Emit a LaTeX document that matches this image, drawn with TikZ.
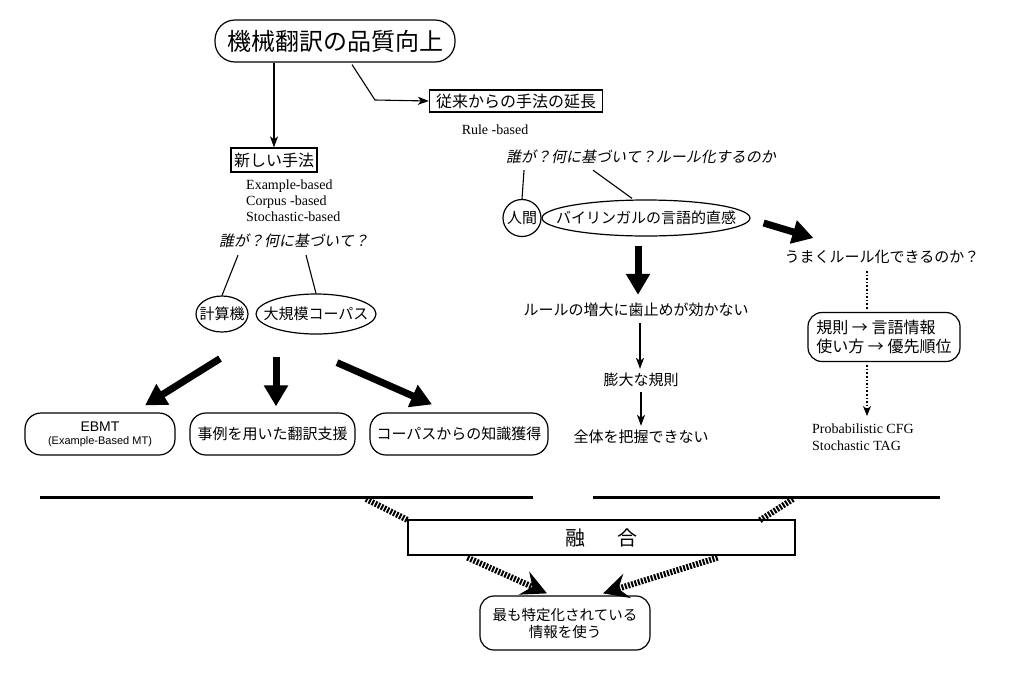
\documentclass[tikz,border=0pt]{standalone}
\usepackage{fontspec}
\setmainfont{Liberation Serif}
\newfontfamily\jp{Noto Sans CJK JP}
\newfontfamily\jpit{Noto Sans CJK JP}[FakeSlant=0.2]
\newfontfamily\ar{Liberation Sans}
\usetikzlibrary{arrows.meta,shapes.geometric,calc}
\newcommand{\zb}[1]{\makebox[0pt]{#1}}
\begin{document}
\begin{tikzpicture}[x=1pt,y=-1pt,
  txt/.style={inner sep=1, font=\jp\fontsize{15}{18}\selectfont},
  itx/.style={inner sep=1, font=\jpit\fontsize{15}{18}\selectfont},
  pill/.style={draw, line width=1.2, rounded corners=16, inner sep=2, align=center, font=\jp\fontsize{15}{18}\selectfont},
  sbox/.style={draw, line width=1.2, inner sep=3, font=\jp\fontsize{15}{18}\selectfont},
  oval/.style={draw, line width=1.2, ellipse, inner sep=0, font=\jp\fontsize{15}{18}\selectfont},
  thin/.style={line width=1.1, -{Stealth[length=11,width=8,inset=3]}},
  fat/.style={line width=7, -{Triangle[width=23,length=21]}},
  hatch/.style={line width=6, dash pattern=on 2 off 1.4},
  hatcharrow/.style={hatch, -{Stealth[length=25,width=25,inset=9]}},
  dots/.style={line width=1.6, dotted},
]
\useasboundingbox (0,0) rectangle (1024,673);

% top
\node[pill, rounded corners=20, minimum width=240, minimum height=42, font=\jp\fontsize{24}{26}\selectfont] (top) at (335,41) {機械翻訳の品質向上};
\node[sbox, minimum width=173, minimum height=22, font=\jp\fontsize{16}{18}\selectfont] (old) at (516,101) {従来からの手法の延長};
\node[sbox, minimum width=85, minimum height=24, font=\jp\fontsize{16}{18}\selectfont] (new) at (274,160) {新しい手法};
\coordinate (bend) at (375,100);
\draw[thin] (top.south -| new.north) -- (new.north);
\draw[thin] ($(top.south)+(17,2)$) -- (bend) -- (old.west);

\node[font=\fontsize{14}{16}\selectfont, inner sep=0] (rb) at (495,130) {Rule -based};
\node[anchor=north west, align=left, inner sep=0, font=\fontsize{14}{15.6}\selectfont] (methods) at (246,180) {Example-based\\Corpus -based\\Stochastic-based};

% left question
\node[itx] (q1) at (294,241) {誰が？何に基づいて？};
\node[oval, minimum width=52, minimum height=36] (calc) at (222,314) {\zb{計算機}};
\node[oval, minimum width=120, minimum height=40] (big) at (316,314) {\zb{大規模コーパス}};
\draw[line width=1.1] ($(q1.south west)+(20,6)$) -- (calc.north);
\draw[line width=1.1] ($(q1.south west)+(88,6)$) -- (big.north);

% bottom left boxes
\node[pill, minimum width=150, minimum height=42, font=\ar\fontsize{14}{14}\selectfont] (ebmt) at (100,434) {EBMT\\[-1pt]{\fontsize{11}{13}\selectfont (Example-Based MT)}};
\node[pill, minimum width=165, minimum height=42] (ex) at (272.5,434) {事例を用いた翻訳支援};
\node[pill, minimum width=178, minimum height=42] (kc) at (459,434) {コーパスからの知識獲得};
\draw[fat] ($(big.south)+(-96,24)$) -- ($(ebmt.north)+(45,-7)$);
\draw[fat] ($(big.south)+(-40,22)$) -- ($(ex.north)+(3.5,-6)$);
\draw[fat] ($(big.south)+(21,28)$) -- ($(kc.north)+(-27,-8)$);

% right question
\node[itx] (q2) at (641,157) {誰が？何に基づいて？ルール化するのか};
\node[oval, minimum width=38, minimum height=37] (human) at (522,218) {\zb{人間}};
\node[oval, minimum width=208, minimum height=36] (bil) at (646,218) {\zb{バイリンガルの言語的直感}};
\draw[line width=1.1] ($(q2.south west)+(19,5)$) -- (human.north);
\draw[line width=1.1] ($(q2.south west)+(88,5)$) -- ($(bil.north)+(-14,-1)$);

\node[txt] (r1) at (636,310) {ルールの増大に歯止めが効かない};
\node[txt] (r2) at (641,380) {膨大な規則};
\node[txt] (r3) at (641,437) {全体を把握できない};
\draw[fat] ($(bil.south)+(-8,9)$) -- ($(r1.north)+(2,-7)$);
\draw[thin] ($(r1.south)+(4,5)$) -- ($(r2.north)+(-1,-3)$);
\draw[thin] ($(r2.south)+(0,4)$) -- ($(r3.north)+(0,-3)$);

\node[txt] (um) at (882,257) {うまくルール化できるのか？};
\draw[fat] ($(bil.east)+(13,5)$) -- ($(um.north west)+(30,-11)$);
\node[pill, rounded corners=14, minimum width=152, minimum height=49, align=left, font=\jp\fontsize{16}{19}\selectfont] (rule) at (884,337) {規則 → 言語情報\\使い方 → 優先順位};
\draw[dots] ($(um.south)+(-15,6)$) -- ($(rule.north)+(-17,-2)$);
\node[anchor=north west, align=left, inner sep=0, font=\fontsize{14}{17}\selectfont] (pcfg) at (812,424) {Probabilistic CFG\\Stochastic TAG};
\draw[dots, -{Stealth[length=10,width=8,inset=3]}] ($(rule.south)+(-17,3)$) -- ($(pcfg.north west)+(55,-8)$);

% merge
\coordinate (l1) at (40,497);
\coordinate (l2) at (533,497);
\coordinate (r1a) at (593,497);
\coordinate (r2a) at (940,497);
\draw[line width=3] (l1) -- (l2);
\draw[line width=3] (r1a) -- (r2a);
\node[draw, line width=1.2, minimum width=387, minimum height=35, inner sep=0, font=\jp\fontsize{20}{22}\selectfont] (fuse) at (601.5,537.5) {融\hspace{1.6em}合};
\coordinate (h1) at (366,499);
\coordinate (h2) at (793,499);
\draw[hatch] (h1) -- ($(fuse.north west)+(1,1)$);
\draw[hatch] (h2) -- ($(fuse.north east)+(-36,1)$);
\node[pill, rounded corners=14, minimum width=170, minimum height=54, font=\jp\fontsize{14.5}{17}\selectfont] (last) at (565,623) {最も特定化されている\\情報を使う};
\draw[hatcharrow] ($(fuse.south west)+(60,2)$) -- ($(last.north)+(-18,-2)$);
\draw[hatcharrow] ($(fuse.south east)+(-78,2)$) -- ($(last.north)+(38,-2)$);
\end{tikzpicture}
\end{document}
